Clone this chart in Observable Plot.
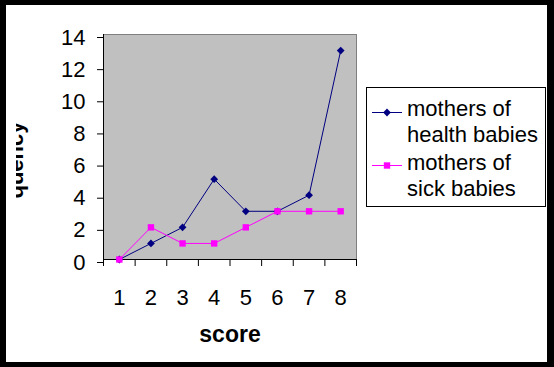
<!DOCTYPE html>
<html>
<head>
<meta charset="utf-8">
<script src="https://cdn.jsdelivr.net/npm/d3@7"></script>
<script src="https://cdn.jsdelivr.net/npm/@observablehq/plot@0.6"></script>
<style>
  html, body { margin: 0; padding: 0; background: #000; }
  #outer { position: relative; width: 554px; height: 367px; background: #000; overflow: hidden; }
  #inner { position: absolute; left: 6px; top: 5px; width: 541px; height: 357px; background: #fff; overflow: hidden; }
  #chart { position: absolute; left: 10px; top: 0; width: 531px; height: 357px; overflow: hidden; }
  #chart svg { overflow: hidden; }
  #ytitle { position: absolute; left: 10px; top: 0; width: 40px; height: 357px; overflow: hidden; }
  #legend { position: absolute; left: 360px; top: 82px; width: 178px; height: 118px; border: 1px solid #000; background: #fff;
            font-family: 'Liberation Sans', Arial, sans-serif; font-size: 22px; color: #000; }
  .lt { position: absolute; left: 40px; line-height: 26px; white-space: nowrap; }
  .sw { position: absolute; left: 5px; }
</style>
</head>
<body>
<div id="outer"><div id="inner"><div id="chart"></div><div id="ytitle"></div><div id="legend"></div></div></div>
<script>
// ---- data ----
const scores = [1, 2, 3, 4, 5, 6, 7, 8];
const healthy = [0, 1, 2, 5, 3, 3, 4, 13];
const sick = [0, 2, 1, 1, 2, 3, 3, 3];
const yTicks = [0, 2, 4, 6, 8, 10, 12, 14];
const seriesNames = ["mothers of health babies", "mothers of sick babies"];
const legendLines = [["mothers of", "health babies"], ["mothers of", "sick babies"]];
const seriesColors = ["#000080", "#FF00FF"];
const xTitle = "score";
const yTitle = "quency";

const dHealthy = scores.map((s, i) => ({score: s, value: healthy[i], series: seriesNames[0]}));
const dSick = scores.map((s, i) => ({score: s, value: sick[i], series: seriesNames[1]}));
const boundaries = [...scores.map(s => s - 0.5), scores[scores.length - 1] + 0.5];

const diamond = d3.symbolDiamond2 || d3.symbolDiamond;

const plot = Plot.plot({
  width: 531,
  height: 357,
  marginLeft: 87,
  marginRight: 191,
  marginTop: 29,
  marginBottom: 103,
  style: {fontFamily: "'Liberation Sans', Arial, sans-serif", fontSize: "22px", background: "transparent", color: "#000", overflow: "hidden"},
  x: {domain: [boundaries[0], boundaries[boundaries.length - 1]], axis: null},
  y: {domain: [0, 14], axis: null},
  marks: [
    Plot.frame({fill: "#C0C0C0", stroke: "#808080"}),
    Plot.axisY({ticks: yTicks, tickSize: 6, tickPadding: 12, dy: 3, label: null, stroke: "#000"}),
    Plot.axisX({ticks: boundaries, tickSize: 7, tickFormat: () => "", label: null, stroke: "#000"}),
    Plot.axisX({ticks: scores, tickSize: 0, tickPadding: 30, label: null}),
    Plot.ruleY([0], {stroke: "#000"}),
    Plot.ruleX([boundaries[0]], {stroke: "#000"}),
    Plot.line(dHealthy, {x: "score", y: "value", stroke: seriesColors[0], strokeWidth: 1}),
    Plot.dot(dHealthy, {x: "score", y: "value", symbol: diamond, r: 3.5, fill: seriesColors[0], stroke: "none"}),
    Plot.line(dSick, {x: "score", y: "value", stroke: seriesColors[1], strokeWidth: 1}),
    Plot.dot(dSick, {x: "score", y: "value", symbol: "square", r: 3.6, fill: seriesColors[1], stroke: "none"}),
    Plot.text([xTitle], {frameAnchor: "bottom", lineAnchor: "bottom", dy: 82.5, fontWeight: "bold", fontSize: 23, text: d => d})
  ]
});
document.getElementById("chart").appendChild(plot);

// ---- y title (clipped at its left edge, as in the reference) ----
const ty = d3.select("#ytitle").append("svg").attr("width", 40).attr("height", 357);
ty.append("text")
  .attr("transform", "translate(6.5,155) rotate(-90)")
  .attr("text-anchor", "middle")
  .attr("font-family", "'Liberation Sans', Arial, sans-serif")
  .attr("font-size", 22)
  .attr("font-weight", "bold")
  .attr("fill", "#000")
  .text(yTitle);

// ---- legend ----
const legend = document.getElementById("legend");
const legendTop = 82;
const entryTops = [96.4, 150.4];   // page y of first text line box
const swatchY = [112, 165];        // page y of swatch line
legendLines.forEach((lines, i) => {
  const t = document.createElement("div");
  t.className = "lt";
  t.style.top = (entryTops[i] - 5 - legendTop - 1) + "px";
  t.innerHTML = lines.join("<br>");
  legend.appendChild(t);
  const ns = "http://www.w3.org/2000/svg";
  const sw = document.createElementNS(ns, "svg");
  sw.setAttribute("width", 32); sw.setAttribute("height", 12);
  sw.setAttribute("class", "sw");
  sw.style.top = (swatchY[i] - 5 - legendTop - 1 - 6) + "px";
  const ln = document.createElementNS(ns, "line");
  ln.setAttribute("x1", 0); ln.setAttribute("x2", 30);
  ln.setAttribute("y1", 6.5); ln.setAttribute("y2", 6.5);
  ln.setAttribute("stroke", seriesColors[i]); ln.setAttribute("stroke-width", 1);
  sw.appendChild(ln);
  const p = document.createElementNS(ns, "path");
  const sym = i === 0 ? d3.symbol(diamond, Math.PI * 3.5 * 3.5) : d3.symbol(d3.symbolSquare, Math.PI * 3.6 * 3.6);
  p.setAttribute("d", sym());
  p.setAttribute("transform", "translate(15,6.5)");
  p.setAttribute("fill", seriesColors[i]);
  sw.appendChild(p);
  legend.appendChild(sw);
});
</script>
</body>
</html>
